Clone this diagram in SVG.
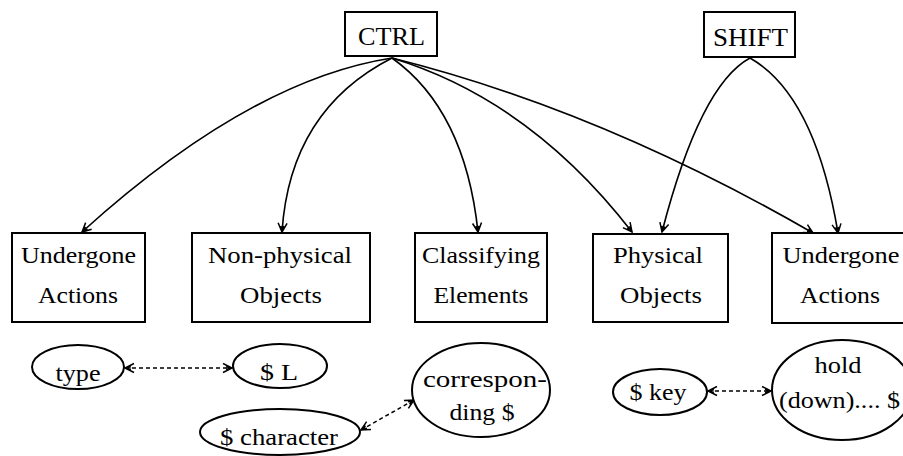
<svg xmlns="http://www.w3.org/2000/svg" width="903" height="456" viewBox="0 0 903 456">
  <defs>
    <marker id="arr" viewBox="-11 -6 13 12" refX="0" refY="0" markerWidth="13" markerHeight="12" markerUnits="userSpaceOnUse" orient="auto-start-reverse">
      <path d="M-9,-4.5 L0,0 L-9,4.5 M-6,-1.5 L-2,0 L-6,1.5" fill="none" stroke="#000" stroke-width="1.5"/>
    </marker>
    <style>
      .box { fill: #fff; stroke: #000; stroke-width: 2; }
      .oval { fill: #fff; stroke: #000; stroke-width: 2; }
      .edge { fill: none; stroke: #000; stroke-width: 1.6; marker-end: url(#arr); }
      .assoc { fill: none; stroke: #000; stroke-width: 1.5; stroke-dasharray: 4 3; marker-start: url(#arr); marker-end: url(#arr); }
      text { font-family: "Liberation Serif", "Times New Roman", serif; font-size: 24px; fill: #000; text-anchor: middle; }
      .key { font-size: 26px; }
    </style>
  </defs>

  <rect width="903" height="456" fill="#fff"/>

  <!-- hierarchy links and associations -->
  <g id="connectors">
    <path class="edge" d="M392,58 Q250,80 82,232"/>
    <path class="edge" d="M392,58 Q290,110 282,232"/>
    <path class="edge" d="M392,58 Q465,110 478,232"/>
    <path class="edge" d="M392,58 Q530,100 632,232"/>
    <path class="edge" d="M392,58 Q600,110 813,233"/>
    <path class="edge" d="M750,58 Q700,85 662,232"/>
    <path class="edge" d="M750,58 Q815,95 838,233"/>
    <path class="assoc" d="M125,368 L232,368"/>
    <path class="assoc" d="M361,430 L414,400"/>
    <path class="assoc" d="M708,391 L771,391"/>
  </g>

  <g id="ctrl">
    <rect class="box" x="345" y="12" width="92" height="44"/>
    <text class="key" x="391.5" y="45" textLength="67" lengthAdjust="spacingAndGlyphs">CTRL</text>
  </g>
  <g id="shift">
    <rect class="box" x="704" y="12" width="91" height="45"/>
    <text class="key" x="750.5" y="46" textLength="75" lengthAdjust="spacingAndGlyphs">SHIFT</text>
  </g>

  <g id="undergone-actions-1">
    <rect class="box" x="12" y="233" width="133" height="89"/>
    <text x="78.5" y="263" textLength="115" lengthAdjust="spacingAndGlyphs">Undergone</text>
    <text x="78" y="303" textLength="80" lengthAdjust="spacingAndGlyphs">Actions</text>
  </g>
  <g id="non-physical-objects">
    <rect class="box" x="192" y="233" width="178" height="89"/>
    <text x="280" y="263" textLength="144" lengthAdjust="spacingAndGlyphs">Non-physical</text>
    <text x="281" y="303" textLength="82" lengthAdjust="spacingAndGlyphs">Objects</text>
  </g>
  <g id="classifying-elements">
    <rect class="box" x="415" y="233" width="132" height="89"/>
    <text x="481" y="263" textLength="118" lengthAdjust="spacingAndGlyphs">Classifying</text>
    <text x="481" y="303" textLength="95" lengthAdjust="spacingAndGlyphs">Elements</text>
  </g>
  <g id="physical-objects">
    <rect class="box" x="593" y="234" width="135" height="88"/>
    <text x="658" y="263" textLength="90" lengthAdjust="spacingAndGlyphs">Physical</text>
    <text x="661" y="303" textLength="82" lengthAdjust="spacingAndGlyphs">Objects</text>
  </g>
  <g id="undergone-actions-2">
    <rect class="box" x="772" y="233" width="140" height="90"/>
    <text x="841" y="263" textLength="117" lengthAdjust="spacingAndGlyphs">Undergone</text>
    <text x="840" y="303" textLength="80" lengthAdjust="spacingAndGlyphs">Actions</text>
  </g>

  <g id="type">
    <ellipse class="oval" cx="78" cy="367" rx="46" ry="22"/>
    <text x="78" y="381" textLength="45" lengthAdjust="spacingAndGlyphs">type</text>
  </g>
  <g id="dollar-l">
    <ellipse class="oval" cx="280" cy="366" rx="47" ry="22"/>
    <text x="279" y="380" textLength="38" lengthAdjust="spacingAndGlyphs">$ L</text>
  </g>
  <g id="dollar-character">
    <ellipse class="oval" cx="280" cy="432" rx="80" ry="23"/>
    <text x="279" y="445" textLength="118" lengthAdjust="spacingAndGlyphs">$ character</text>
  </g>
  <g id="corresponding">
    <ellipse class="oval" cx="481" cy="390" rx="69" ry="47"/>
    <text x="485" y="387" textLength="124" lengthAdjust="spacingAndGlyphs">correspon-</text>
    <text x="482" y="420" textLength="65" lengthAdjust="spacingAndGlyphs">ding $</text>
  </g>
  <g id="dollar-key">
    <ellipse class="oval" cx="660" cy="392" rx="47" ry="23"/>
    <text x="658" y="400" textLength="57" lengthAdjust="spacingAndGlyphs">$ key</text>
  </g>
  <g id="hold-down">
    <ellipse class="oval" cx="842" cy="390" rx="70" ry="50"/>
    <text x="838" y="373" textLength="47" lengthAdjust="spacingAndGlyphs">hold</text>
    <text x="779" y="408" style="text-anchor:start" textLength="121" lengthAdjust="spacingAndGlyphs">(down).... $</text>
  </g>
</svg>
